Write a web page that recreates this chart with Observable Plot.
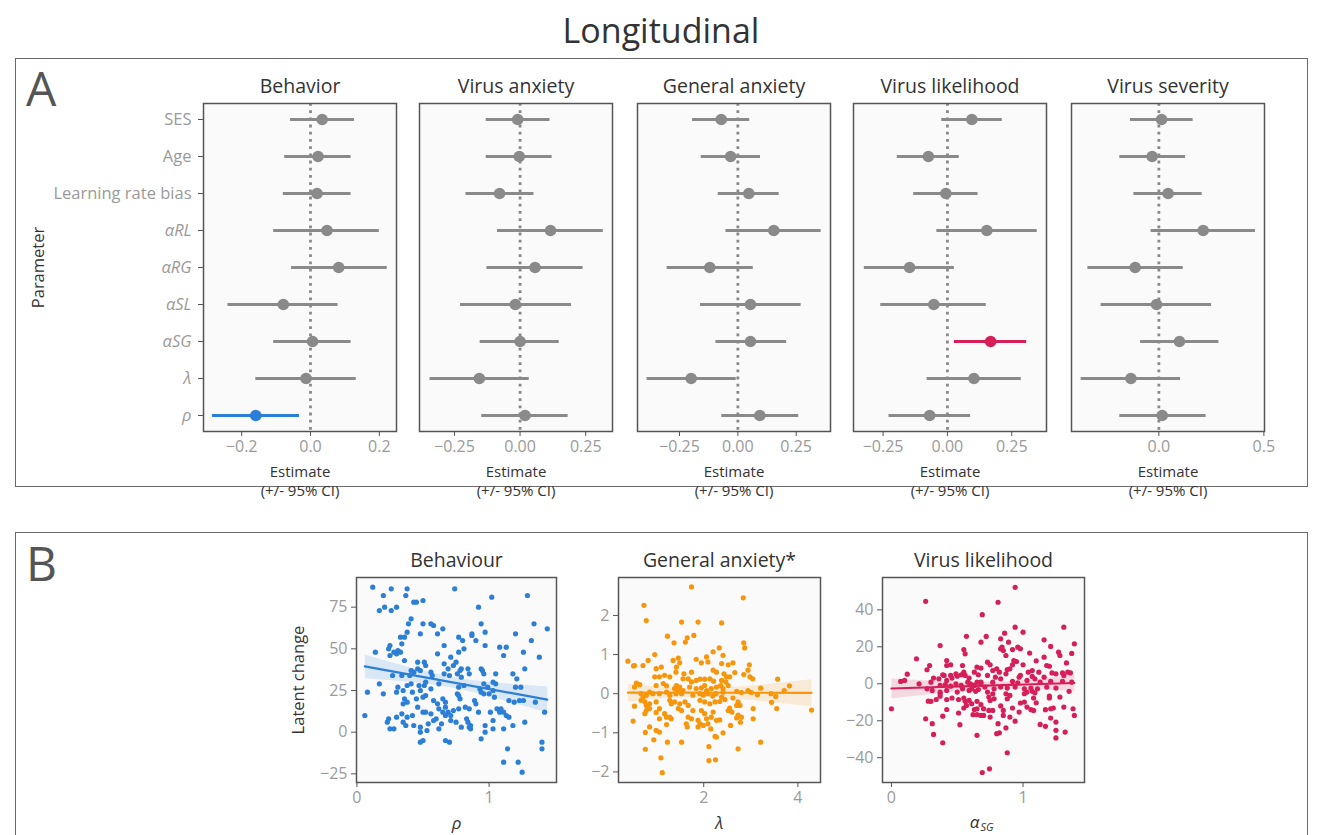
<!DOCTYPE html>
<html><head><meta charset="utf-8">
<script src="https://cdn.jsdelivr.net/npm/d3@7"></script>
<script src="https://cdn.jsdelivr.net/npm/@observablehq/plot@0.6"></script>
<style>
body{margin:0;background:#fff;font-family:"Open Sans",sans-serif;}
#root{position:relative;width:1318px;height:835px;overflow:hidden;background:#fff;}
.panel{position:absolute;border:1.5px solid #6a6a6a;box-sizing:border-box;}
.letter{position:absolute;font-size:48px;color:#555;line-height:1;}
#title{position:absolute;left:0;width:1322px;text-align:center;top:13px;font-size:34px;color:#333;line-height:1;}
svg{position:absolute;overflow:visible;}
</style></head><body><div id="root">
<div id="title">Longitudinal</div>
<div class="panel" style="left:15px;top:58px;width:1293px;height:429px;"></div>
<div class="panel" style="left:15px;top:532px;width:1293px;height:330px;"></div>
<div class="letter" style="left:26px;top:64px;">A</div>
<div class="letter" style="left:26px;top:539px;">B</div>
</div>
<script>
// ---------- Panel A data ----------
const params = ["SES","Age","Learning rate bias","αRL","αRG","αSL","αSG","λ","ρ"];
const plainParams = ["SES","Age","Learning rate bias"];
const outcomes = ["Behavior","Virus anxiety","General anxiety","Virus likelihood","Virus severity"];

const estBehavior = [0.034,0.022,0.019,0.048,0.082,-0.079,0.006,-0.013,-0.159];
const loBehavior  = [-0.058,-0.075,-0.079,-0.107,-0.055,-0.240,-0.107,-0.159,-0.285];
const hiBehavior  = [0.128,0.118,0.118,0.200,0.223,0.080,0.118,0.133,-0.032];

const estVirusAnxiety = [-0.009,-0.003,-0.078,0.116,0.057,-0.018,0.000,-0.155,0.019];
const loVirusAnxiety  = [-0.129,-0.129,-0.206,-0.086,-0.126,-0.227,-0.152,-0.343,-0.146];
const hiVirusAnxiety  = [0.114,0.122,0.053,0.317,0.240,0.196,0.149,0.035,0.183];

const estGeneralAnxiety = [-0.071,-0.031,0.047,0.154,-0.120,0.054,0.054,-0.200,0.094];
const loGeneralAnxiety  = [-0.194,-0.157,-0.084,-0.051,-0.303,-0.160,-0.094,-0.389,-0.069];
const hiGeneralAnxiety  = [0.051,0.097,0.177,0.357,0.066,0.271,0.209,-0.007,0.261];

const estVirusLikelihood = [0.095,-0.074,-0.006,0.153,-0.147,-0.053,0.168,0.103,-0.069];
const loVirusLikelihood  = [-0.022,-0.195,-0.131,-0.041,-0.323,-0.259,0.027,-0.079,-0.227];
const hiVirusLikelihood  = [0.213,0.046,0.119,0.349,0.027,0.151,0.308,0.287,0.090];

const estVirusSeverity = [0.013,-0.032,0.044,0.211,-0.113,-0.011,0.098,-0.133,0.016];
const loVirusSeverity  = [-0.135,-0.186,-0.119,-0.037,-0.338,-0.275,-0.087,-0.370,-0.186];
const hiVirusSeverity  = [0.163,0.127,0.206,0.460,0.116,0.251,0.286,0.103,0.225];

const xTicksA = [[-0.2,0,0.2],[-0.25,0,0.25],[-0.25,0,0.25],[-0.25,0,0.25],[0,0.5]];
const significant = [{outcome:"Behavior", param:"ρ"},{outcome:"Virus likelihood", param:"αSG"}];

// ---------- Panel B data ----------
const scatterTitles = ["Behaviour","General anxiety*","Virus likelihood"];
const behRhoX = [0.12,0.26,0.38,0.20,0.37,0.43,0.45,0.50,0.17,0.21,0.26,0.30,0.41,0.39,0.50,0.56,0.58,0.38,0.33,0.36,0.48,0.61,0.65,0.25,0.24,0.34,0.66,0.28,0.31,0.25,0.30,0.14,0.33,0.61,0.71,0.36,0.46,0.51,0.52,0.66,0.69,0.73,0.46,0.48,0.41,0.43,0.56,0.57,0.66,0.70,0.27,0.34,0.40,0.52,0.38,0.41,0.47,0.17,0.31,0.62,0.08,0.20,0.30,0.35,0.42,0.48,0.56,0.51,0.36,0.38,0.35,0.45,0.50,0.52,0.58,0.61,0.65,0.67,0.46,0.50,0.52,0.56,0.62,0.65,0.67,0.69,0.71,0.73,0.06,0.24,0.23,0.30,0.34,0.38,0.42,0.35,0.37,0.43,0.58,0.60,0.25,0.28,0.48,0.54,0.64,0.67,0.71,0.48,0.53,0.62,0.48,0.50,0.67,0.70,
0.74,1.02,1.29,0.92,0.94,1.34,1.44,0.97,0.87,0.87,1.20,0.77,0.80,0.90,1.32,0.97,1.08,1.13,0.81,0.77,1.26,1.11,1.38,0.75,0.79,0.78,0.84,0.94,0.95,1.27,0.76,0.85,0.96,1.05,1.18,1.21,0.79,0.96,1.03,1.05,1.20,1.24,0.81,0.77,0.93,0.99,0.94,0.96,1.00,1.03,0.76,0.77,0.78,1.04,1.15,1.19,1.23,1.26,1.35,0.89,0.90,0.82,0.85,0.92,0.77,1.06,1.09,1.08,1.11,1.13,1.15,1.01,1.42,0.83,0.84,0.75,1.03,1.27,1.18,0.79,0.85,0.86,0.86,0.97,0.97,1.03,1.11,0.94,1.40,1.40,1.14,1.11,1.22,1.25];
const behChangeY = [87,86,86,82,82,78,78,79,73,75,73,75,68,65,65,65,64,60,57,57,59,59,62,52,50,53,52,48,49,46,47,48,48,47,45,43,42,42,40,41,38,40,38,37,37,36,36,34,35,34,34,34,34,30,28,29,28,29,27,29,24,23,24,25,24,25,26,28,20,18,17,20,21,22,19,17,20,18,15,12,12,11,14,12,15,12,10,13,10,8,6,9,11,9,10,6,4,4,7,8,2,2,3,5,5,10,7,0,1,2,-6,-5,-5,-6,
86,81,82,75,65,65,62,60,59,58,59,57,55,55,55,52,51,51,50,48,48,46,45,42,38,37,38,38,37,38,35,35,35,35,35,32,33,29,30,29,27,27,28,27,26,27,24,23,23,25,23,22,20,21,19,18,19,19,18,19,17,15,14,12,14,14,14,12,12,10,9,12,12,8,6,6,7,6,4,3,3,2,4,4,0,2,2,-4,-6,-10,-10,-18,-18,-24];

const anxLambdaX = [1.74,0.73,0.78,1.53,1.88,1.23,1.65,1.61,1.79,1.37,0.96,0.39,0.51,0.53,0.82,0.71,1.35,1.46,1.49,1.84,1.95,2.06,2.20,2.09,0.99,1.10,1.42,1.41,1.58,1.74,2.20,2.27,0.96,1.06,1.17,1.28,1.56,1.67,1.74,1.84,1.92,2.02,2.13,2.21,0.57,0.64,0.53,0.99,1.14,1.21,1.42,1.49,1.38,1.46,1.56,1.53,1.41,1.70,1.84,1.95,2.02,2.06,2.16,2.27,0.67,0.71,0.78,0.85,0.92,1.06,1.21,1.28,1.77,1.92,1.99,2.09,2.19,2.26,0.67,0.75,0.85,0.78,0.99,1.28,1.31,1.38,1.49,1.60,1.67,1.92,2.02,2.13,2.24,0.53,0.78,0.85,1.06,0.99,1.17,1.53,1.46,1.77,1.95,2.02,2.20,0.75,1.06,1.21,1.28,1.31,1.67,1.74,1.88,2.06,2.16,2.27,0.50,1.21,1.63,1.65,1.88,1.92,1.99,2.09,2.15,0.99,1.06,0.85,0.76,0.94,1.23,1.53,2.24,2.27,0.76,2.11,1.09,2.11,2.25,1.12,
2.84,2.38,2.85,2.87,2.33,2.41,2.38,2.52,2.62,2.97,2.43,2.55,2.66,2.85,2.94,2.98,3.04,2.38,2.47,2.48,3.57,2.36,2.41,2.52,3.21,3.82,3.71,2.41,2.38,2.45,2.34,2.70,2.80,2.94,3.01,2.62,2.77,2.70,2.73,3.14,3.43,3.53,3.44,2.55,2.60,2.52,3.05,3.55,4.29,2.73,2.80,2.70,2.78,3.05,2.34,2.57,2.41,3.21,2.73];
const anxChangeY = [2.73,2.26,1.87,1.83,1.83,1.47,1.43,1.32,1.49,1.30,1.00,0.83,0.71,0.72,0.85,0.72,0.85,0.91,0.79,0.88,0.79,0.94,1.07,0.81,0.64,0.68,0.68,0.55,0.51,0.55,0.60,0.55,0.43,0.43,0.47,0.43,0.38,0.38,0.30,0.34,0.37,0.37,0.38,0.32,0.27,0.23,0.17,0.21,0.26,0.20,0.21,0.17,0.13,0.08,0.08,0.00,0.00,0.17,0.13,0.15,0.21,0.08,0.13,0.17,0.00,-0.09,-0.04,0.04,0.00,0.00,0.04,-0.04,-0.04,0.00,-0.04,0.00,-0.06,0.00,-0.17,-0.21,-0.26,-0.30,-0.21,-0.17,-0.26,-0.21,-0.26,-0.21,-0.30,-0.17,-0.21,-0.26,-0.21,-0.32,-0.43,-0.38,-0.38,-0.48,-0.51,-0.43,-0.38,-0.43,-0.43,-0.51,-0.47,-0.51,-0.64,-0.60,-0.60,-0.64,-0.60,-0.64,-0.68,-0.64,-0.60,-0.68,-0.70,-0.79,-0.77,-0.85,-0.85,-0.77,-0.81,-0.77,-0.90,-0.94,-0.98,-0.85,-0.99,-1.18,-1.24,-1.24,-1.09,-1.11,-1.42,-1.35,-1.64,-1.71,-1.69,-2.02,
2.45,1.81,1.30,1.17,1.17,0.98,0.77,0.74,0.79,0.74,0.51,0.43,0.54,0.49,0.60,0.43,0.38,0.34,0.30,0.43,0.37,0.21,0.13,0.21,0.14,0.20,0.08,0.04,-0.09,-0.15,-0.20,0.06,0.03,0.08,0.03,-0.11,-0.30,-0.30,-0.21,-0.03,0.00,-0.07,-0.22,-0.37,-0.47,-0.43,-0.38,-0.38,-0.42,-0.55,-0.60,-0.62,-0.73,-0.64,-0.67,-0.81,-1.00,-1.24,-1.41];

const likAlphaX = [0.26,0.69,0.57,0.68,0.37,0.55,0.56,0.19,0.42,0.45,0.42,0.29,0.27,0.54,0.65,0.68,0.12,0.10,0.07,0.39,0.40,0.45,0.49,0.50,0.53,0.32,0.36,0.42,0.46,0.55,0.56,0.59,0.63,0.66,0.21,0.30,0.37,0.41,0.45,0.49,0.53,0.58,0.60,0.63,0.65,0.68,0.61,0.59,0.64,0.66,0.27,0.31,0.37,0.37,0.42,0.50,0.54,0.00,0.28,0.30,0.34,0.37,0.42,0.46,0.51,0.55,0.56,0.59,0.61,0.65,0.68,0.57,0.42,0.55,0.63,0.65,0.51,0.62,0.65,0.68,0.39,0.26,0.31,0.52,0.32,0.65,0.39,0.69,0.745,
0.94,0.81,0.72,0.94,1.00,1.31,0.86,1.16,1.21,1.39,0.83,0.89,0.96,0.98,0.92,0.84,0.85,0.87,0.83,1.05,1.16,1.27,1.28,1.37,0.93,0.95,1.00,0.92,0.73,0.75,1.10,1.18,1.20,1.33,0.80,0.77,0.82,0.88,0.90,0.87,1.04,1.07,1.12,1.22,1.25,1.30,1.34,1.36,1.31,0.73,0.79,0.83,0.97,0.98,1.07,1.09,1.16,0.68,0.77,0.92,0.96,1.03,1.13,1.21,1.30,1.37,0.71,0.78,0.83,0.88,0.94,1.01,1.06,1.11,1.18,1.25,1.35,0.73,0.77,0.87,1.01,1.03,1.07,1.09,0.74,0.75,0.78,0.88,0.90,1.08,1.20,1.28,0.98,1.01,1.10,1.20,0.70,0.74,0.77,0.83,0.85,0.92,0.97,1.03,1.06,1.08,1.17,1.21,1.23,1.31,0.70,0.75,0.85,0.90,0.94,1.21,1.38,1.39,1.13,1.17,1.25,1.25,0.81,0.87,0.82,0.80,1.32,1.25,0.88];
const likChangeY = [44.6,37.4,25.7,22.5,20.7,18.5,16.2,13.5,12.6,10.3,9.9,9.9,7.6,9.9,9.0,8.5,5.2,1.8,1.3,4.9,4.5,4.5,5.4,4.1,4.9,3.1,2.7,1.8,3.1,6.3,4.5,3.1,6.3,4.9,0.0,0.9,-0.9,-0.5,-1.3,0.0,-0.9,0.9,0.0,-0.9,0.9,0.0,-2.7,-3.6,-4.1,-3.1,-2.7,-3.6,-5.4,-4.5,-3.6,-4.5,-2.7,-13.5,-9.4,-9.5,-8.5,-6.7,-8.5,-7.7,-8.5,-7.7,-9.5,-9.0,-10.8,-9.5,-11.3,-11.7,-13.9,-13.1,-13.9,-13.5,-15.8,-16.7,-16.7,-17.1,-17.5,-18.9,-21.6,-22.1,-27.4,-27.9,-31.9,-48.0,-46.0,
52.2,44.1,25.6,30.6,27.9,30.6,27.4,23.8,20.2,21.6,24.3,22.5,19.8,18.9,18.5,19.8,18.0,15.3,18.9,16.6,14.4,17.1,15.3,16.4,12.6,12.0,10.3,10.3,11.7,10.3,12.4,9.9,9.5,11.3,8.1,7.2,6.3,7.7,8.1,5.4,6.3,7.2,6.3,5.9,5.4,5.9,6.3,5.9,4.5,4.5,3.6,2.7,3.6,4.5,4.0,2.7,3.6,0.9,0.9,1.3,0.5,1.8,0.9,1.3,1.3,0.9,-1.8,-2.7,-1.8,-2.3,-1.8,-2.7,-2.3,-2.7,-1.8,-2.3,-4.1,-4.5,-5.4,-5.4,-5.4,-4.5,-4.1,-4.9,-7.2,-9.0,-8.1,-8.1,-6.3,-7.7,-6.7,-7.2,-10.4,-9.9,-10.3,-7.7,-13.5,-14.4,-14.4,-12.0,-14.4,-13.1,-15.3,-12.6,-14.0,-14.4,-14.0,-13.5,-13.1,-12.6,-17.1,-18.0,-17.1,-18.0,-20.2,-18.5,-13.5,-17.1,-22.0,-23.0,-20.7,-25.2,-21.6,-23.9,-26.5,-27.0,-26.1,-29.3,-37.3];

// ---------- styling / layout ----------
const FONT = "Open Sans, sans-serif";
const GREY = "#8a8a8a", BLUE = "#2b7fd6", RED = "#d61f59", ORANGE = "#f7960b";
const TICKTXT = "#9a9a9a", DARK = "#333", FRAME = "#555";
const TICKFS = 16, TITLEFS = 19.5, LABELFS = 16.5, ESTFS = 15;
const root = document.getElementById("root");

const forestSets = [
  [estBehavior, loBehavior, hiBehavior],
  [estVirusAnxiety, loVirusAnxiety, hiVirusAnxiety],
  [estGeneralAnxiety, loGeneralAnxiety, hiGeneralAnxiety],
  [estVirusLikelihood, loVirusLikelihood, hiVirusLikelihood],
  [estVirusSeverity, loVirusSeverity, hiVirusSeverity]
];
const forestDomains = [[-0.311,0.250],[-0.383,0.352],[-0.430,0.397],[-0.365,0.385],[-0.416,0.503]];
const forestLeft = [203, 419, 637, 853, 1071];
const forestFormats = [".1f",".2f",".2f",".2f",".1f"];
const hlColor = {"Behavior": BLUE, "Virus likelihood": RED};

outcomes.forEach((outcome, i) => {
  const [est, lo, hi] = forestSets[i];
  const data = params.map((p, j) => ({
    param: p, est: est[j], lo: lo[j], hi: hi[j],
    hl: significant.some(s => s.outcome === outcome && s.param === p)
  }));
  const first = i === 0;
  const mL = first ? 183 : 10, mR = 10, mT = 40, mB = 70;
  const W = 193, H = 328;
  const c = hlColor[outcome] || GREY;
  const fmt = d3.format(forestFormats[i]);
  const marks = [
    Plot.frame({fill: "#fafafa", stroke: "none"}),
    Plot.ruleX([0], {stroke: "#888", strokeWidth: 2.8, strokeDasharray: "2.8,4.4"}),
    Plot.ruleY(data, {filter: d => !d.hl, y: "param", x1: "lo", x2: "hi", stroke: GREY, strokeWidth: 3}),
    Plot.dot(data, {filter: d => !d.hl, x: "est", y: "param", r: 5.8, fill: GREY}),
    Plot.ruleY(data, {filter: d => d.hl, y: "param", x1: "lo", x2: "hi", stroke: c, strokeWidth: 3}),
    Plot.dot(data, {filter: d => d.hl, x: "est", y: "param", r: 5.8, fill: c}),
    Plot.frame({stroke: FRAME, strokeWidth: 1.5}),
    Plot.axisX({ticks: xTicksA[i], tickFormat: fmt, tickSize: 5, tickPadding: 4, stroke: FRAME, fill: TICKTXT, fontSize: TICKFS, label: null}),
    Plot.text([outcome], {text: d => d, frameAnchor: "top", lineAnchor: "middle", dy: -16.5, fontSize: TITLEFS, fill: DARK}),
    Plot.text(["Estimate"], {text: d => d, frameAnchor: "bottom", lineAnchor: "middle", dy: 40.5, fontSize: ESTFS, fill: DARK}),
    Plot.text(["(+/- 95% CI)"], {text: d => d, frameAnchor: "bottom", lineAnchor: "middle", dy: 60, fontSize: ESTFS, fill: DARK})
  ];
  if (first) {
    marks.push(
      Plot.axisY({tickSize: 5, tickFormat: () => "", stroke: FRAME, label: null}),
      Plot.text(data, {filter: d => plainParams.includes(d.param), y: "param", text: "param", frameAnchor: "left", textAnchor: "end", dx: -12, fontSize: 16.5, fill: TICKTXT}),
      Plot.text(data, {filter: d => !plainParams.includes(d.param), y: "param", text: "param", frameAnchor: "left", textAnchor: "end", dx: -12, fontSize: 16.5, fill: TICKTXT, fontStyle: "italic"}),
      Plot.text(["Parameter"], {text: d => d, frameAnchor: "left", textAnchor: "middle", lineAnchor: "middle", dx: -165, rotate: -90, fontSize: LABELFS, fill: DARK})
    );
  }
  const svg = Plot.plot({
    width: mL + W + mR, height: mT + H + mB,
    marginLeft: mL, marginRight: mR, marginTop: mT, marginBottom: mB,
    style: {fontFamily: FONT, background: "transparent", overflow: "visible"},
    x: {domain: forestDomains[i], axis: null},
    y: {type: "point", domain: params, padding: 0.4, axis: null},
    marks
  });
  svg.style.left = (forestLeft[i] - mL) + "px";
  svg.style.top = (103 - mT) + "px";
  root.appendChild(svg);
});

// ---------- Panel B ----------
const scatterSets = [
  {x: behRhoX, y: behChangeY, color: BLUE, left: 356, W: 200, xdom: [-0.003, 1.51], ydom: [-30.2, 92.8], xt: [0, 1], yt: [-25, 0, 25, 50, 75], mL: 70},
  {x: anxLambdaX, y: anxChangeY, color: ORANGE, left: 618, W: 202, xdom: [0.19, 4.48], ydom: [-2.27, 2.97], xt: [2, 4], yt: [-2, -1, 0, 1, 2], mL: 45},
  {x: likAlphaX, y: likChangeY, color: RED, left: 882, W: 202, xdom: [-0.068, 1.467], ydom: [-53.4, 57.5], xt: [0, 1], yt: [-40, -20, 0, 20, 40], mL: 50}
];
scatterSets.forEach((s, i) => {
  const data = s.x.map((x, j) => ({x, y: s.y[j]}));
  const mT = 40, mB = 60, mR = 10, H = 205;
  const marks = [
    Plot.frame({fill: "#fafafa", stroke: "none"}),
    Plot.dot(data, {x: "x", y: "y", r: 2.6, fill: s.color}),
    Plot.linearRegressionY(data, {x: "x", y: "y", stroke: s.color, fill: s.color, fillOpacity: 0.15, strokeWidth: 2.2}),
    Plot.frame({stroke: FRAME, strokeWidth: 1.5}),
    Plot.axisX({ticks: s.xt, tickFormat: d3.format("d"), tickSize: 5, tickPadding: 4, stroke: FRAME, fill: TICKTXT, fontSize: TICKFS, label: null}),
    Plot.axisY({ticks: s.yt, tickFormat: d3.format("d"), tickSize: 5, tickPadding: 4, stroke: FRAME, fill: TICKTXT, fontSize: TICKFS, label: null}),
    Plot.text([scatterTitles[i]], {text: d => d, frameAnchor: "top", lineAnchor: "middle", dy: -16.5, fontSize: TITLEFS, fill: DARK})
  ];
  if (i === 0) {
    marks.push(Plot.text(["ρ"], {text: d => d, frameAnchor: "bottom", lineAnchor: "middle", dy: 41, fontSize: 17, fontStyle: "italic", fill: DARK}));
    marks.push(Plot.text(["Latent change"], {text: d => d, frameAnchor: "left", textAnchor: "middle", lineAnchor: "middle", dx: -58, rotate: -90, fontSize: LABELFS, fill: DARK}));
  } else if (i === 1) {
    marks.push(Plot.text(["λ"], {text: d => d, frameAnchor: "bottom", lineAnchor: "middle", dy: 41, fontSize: 17, fontStyle: "italic", fill: DARK}));
  } else {
    marks.push(Plot.text(["α"], {text: d => d, frameAnchor: "bottom", lineAnchor: "middle", dy: 40, dx: -9, fontSize: 17, fontStyle: "italic", fill: DARK}));
    marks.push(Plot.text(["SG"], {text: d => d, frameAnchor: "bottom", lineAnchor: "middle", dy: 45, dx: -3, textAnchor: "start", fontSize: 11, fontStyle: "italic", fill: DARK}));
  }
  const svg = Plot.plot({
    width: s.mL + s.W + mR, height: mT + H + mB,
    marginLeft: s.mL, marginRight: mR, marginTop: mT, marginBottom: mB,
    style: {fontFamily: FONT, background: "transparent", overflow: "visible"},
    x: {domain: s.xdom, axis: null},
    y: {domain: s.ydom, axis: null},
    marks
  });
  svg.style.left = (s.left - s.mL) + "px";
  svg.style.top = (577 - mT) + "px";
  root.appendChild(svg);
});
</script>
</body></html>
